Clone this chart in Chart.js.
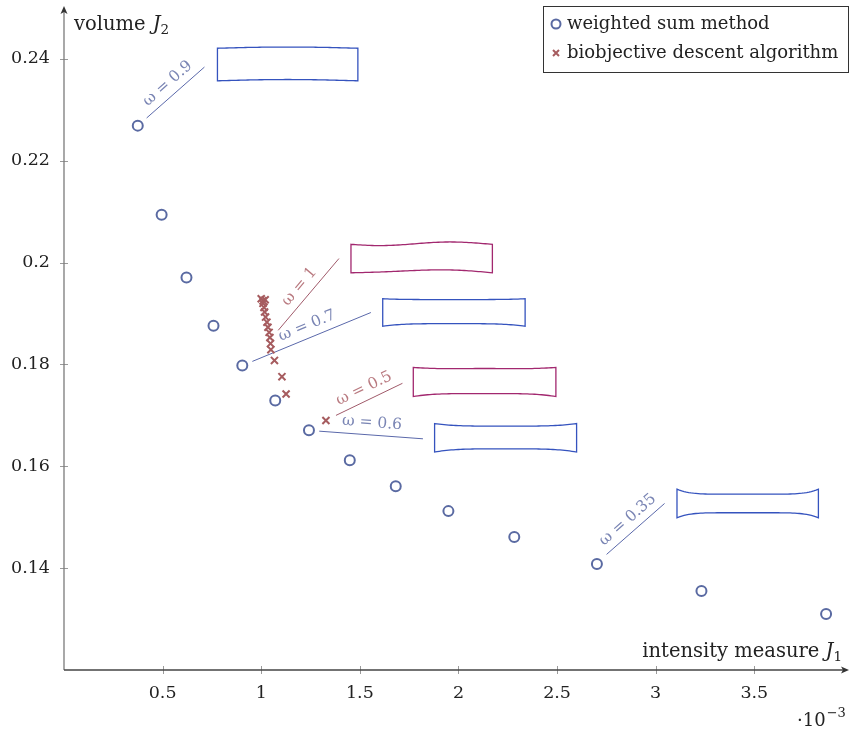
<!DOCTYPE html>
<html>
<head>
<meta charset="utf-8">
<script src="https://cdn.jsdelivr.net/npm/chart.js@4.4.1/dist/chart.umd.min.js"></script>
<style>
  html, body { margin: 0; padding: 0; background: #fff; }
</style>
</head>
<body>
<canvas id="chart" width="854" height="736"></canvas>
<script>
// weighted sum method (J1 in 1e-3)
const weightedJ1 = [0.374, 0.495, 0.621, 0.758, 0.904, 1.071, 1.242, 1.449, 1.682, 1.949, 2.283, 2.702, 3.232, 3.864];
const weightedJ2 = [0.2269, 0.2094, 0.1971, 0.1876, 0.1798, 0.1729, 0.1671, 0.1612, 0.1561, 0.1512, 0.1461, 0.1408, 0.1355, 0.1310];

// biobjective descent algorithm
const descentJ1 = [1.000, 1.020, 1.009, 1.009, 1.014, 1.017, 1.022, 1.029, 1.034, 1.040, 1.044, 1.047, 1.049, 1.067, 1.105, 1.126, 1.328];
const descentJ2 = [0.1929, 0.1927, 0.1925, 0.1920, 0.1912, 0.1903, 0.1893, 0.1883, 0.1873, 0.1863, 0.1853, 0.1841, 0.1829, 0.1808, 0.1776, 0.1742, 0.1690];

const xTicks = [0.5, 1, 1.5, 2, 2.5, 3, 3.5];
const yTicks = [0.14, 0.16, 0.18, 0.2, 0.22, 0.24];

const serif = '"DejaVu Serif", serif';
const blue = '#5a6aa2';
const red = '#a65c5f';

// omega annotations: leader line + sketch of the beam shape (data coords)
const notes = [
  { w: '0.9', c: 'b', line: [[0.419, 0.2284], [0.712, 0.2384]], box: [0.778, 1.490, 0.2421, 0.2357], top: t => -1.2 * Math.sin(Math.PI * t), bot: t => -1.3 * Math.sin(Math.PI * t) },
  { w: '1', c: 'r', line: [[1.086, 0.1867], [1.394, 0.2008]], box: [1.455, 2.172, 0.2037, 0.1980], top: t => 1.8 * Math.sin(2 * Math.PI * t + 0.3), bot: t => -2.6 * Math.sin(Math.PI * t) + 0.8 * Math.sin(2 * Math.PI * t) },
  { w: '0.7', c: 'b', line: [[0.955, 0.1806], [1.556, 0.1902]], box: [1.616, 2.338, 0.1929, 0.1875], top: t => 0.8 * (1 - Math.pow(2 * t - 1, 4)), bot: t => -2.6 * (1 - Math.pow(2 * t - 1, 4)) },
  { w: '0.5', c: 'r', line: [[1.379, 0.1700], [1.716, 0.1763]], box: [1.771, 2.494, 0.1794, 0.1737], top: t => 2.4 * Math.sin(Math.PI * t) * (0.7 + 0.3 * Math.cos(2 * Math.PI * t)), bot: t => -3 * (1 - Math.pow(2 * t - 1, 4)) },
  { w: '0.6', c: 'b', line: [[1.294, 0.1669], [1.820, 0.1654]], box: [1.879, 2.599, 0.1684, 0.1628], top: t => 2.6 * (1 - Math.pow(2 * t - 1, 4)), bot: t => -3.2 * (1 - Math.pow(2 * t - 1, 4)) },
  { w: '0.35', c: 'b', line: [[2.751, 0.1427], [3.045, 0.1527]], box: [3.108, 3.825, 0.1555, 0.1499], top: t => 5 * (1 - Math.pow(2 * t - 1, 6)), bot: t => -5 * (1 - Math.pow(2 * t - 1, 6)) }
];

const decor = {
  id: 'decor',
  beforeDatasetsDraw(chart) {
    const ctx = chart.ctx, xs = chart.scales.x, ys = chart.scales.y;
    ctx.save();
    notes.forEach(n => {
      const lineCol = n.c === 'b' ? '#5a68aa' : '#a05a6a';
      const txtCol = n.c === 'b' ? '#7a85b4' : '#b97a80';
      const boxCol = n.c === 'b' ? '#3553be' : '#a2286f';
      const x1 = xs.getPixelForValue(n.line[0][0]), y1 = ys.getPixelForValue(n.line[0][1]);
      const x2 = xs.getPixelForValue(n.line[1][0]), y2 = ys.getPixelForValue(n.line[1][1]);
      ctx.strokeStyle = lineCol;
      ctx.lineWidth = 1;
      ctx.beginPath(); ctx.moveTo(x1, y1); ctx.lineTo(x2, y2); ctx.stroke();
      // label along the line
      const ang = Math.atan2(y2 - y1, x2 - x1);
      const len = Math.hypot(x2 - x1, y2 - y1);
      const nx = (y2 - y1) / len, ny = -(x2 - x1) / len;
      ctx.save();
      ctx.translate((x1 + x2) / 2 + nx * 12, (y1 + y2) / 2 + ny * 12);
      ctx.rotate(ang);
      ctx.fillStyle = txtCol;
      ctx.textAlign = 'center';
      ctx.textBaseline = 'middle';
      ctx.font = '15.5px ' + serif;
      ctx.fillText('\u03c9 = ' + n.w, 0, 0);
      ctx.restore();
      // beam sketch
      const bx1 = xs.getPixelForValue(n.box[0]), bx2 = xs.getPixelForValue(n.box[1]);
      const by1 = ys.getPixelForValue(n.box[2]), by2 = ys.getPixelForValue(n.box[3]);
      ctx.strokeStyle = boxCol;
      ctx.lineWidth = 1.3;
      ctx.beginPath();
      const N = 60;
      for (let i = 0; i <= N; i++) {
        const t = i / N, x = bx1 + (bx2 - bx1) * t, y = by1 + n.top(t);
        i === 0 ? ctx.moveTo(x, y) : ctx.lineTo(x, y);
      }
      for (let i = N; i >= 0; i--) {
        const t = i / N;
        ctx.lineTo(bx1 + (bx2 - bx1) * t, by2 + n.bot(t));
      }
      ctx.closePath();
      ctx.stroke();
    });
    ctx.restore();
  },
  afterDraw(chart) {
    const ctx = chart.ctx, xs = chart.scales.x, ys = chart.scales.y;
    const a = chart.chartArea;
    ctx.save();
    // tick marks crossing the axes
    ctx.strokeStyle = '#9a9a9a';
    ctx.lineWidth = 1;
    xTicks.forEach(v => {
      const x = Math.round(xs.getPixelForValue(v)) + 0.5;
      ctx.beginPath(); ctx.moveTo(x, a.bottom - 4); ctx.lineTo(x, a.bottom + 4); ctx.stroke();
    });
    yTicks.forEach(v => {
      const y = Math.round(ys.getPixelForValue(v)) + 0.5;
      ctx.beginPath(); ctx.moveTo(a.left - 4, y); ctx.lineTo(a.left + 4, y); ctx.stroke();
    });
    // axes with arrows
    ctx.lineWidth = 1.3;
    ctx.strokeStyle = '#7a7a7a';
    ctx.beginPath(); ctx.moveTo(a.left, a.top + 2); ctx.lineTo(a.left, a.bottom); ctx.stroke();
    ctx.strokeStyle = '#444';
    ctx.beginPath(); ctx.moveTo(a.left, a.bottom); ctx.lineTo(a.right - 2, a.bottom); ctx.stroke();
    ctx.fillStyle = '#333';
    ctx.beginPath();
    ctx.moveTo(a.left, a.top - 2); ctx.lineTo(a.left - 3.5, a.top + 6); ctx.lineTo(a.left, a.top + 4); ctx.lineTo(a.left + 3.5, a.top + 6);
    ctx.closePath(); ctx.fill();
    ctx.beginPath();
    ctx.moveTo(a.right + 2, a.bottom); ctx.lineTo(a.right - 6, a.bottom - 3.5); ctx.lineTo(a.right - 4, a.bottom); ctx.lineTo(a.right - 6, a.bottom + 3.5);
    ctx.closePath(); ctx.fill();

    // axis titles
    const fs = 19.5, fsub = 13.5;
    ctx.fillStyle = '#222';
    ctx.textBaseline = 'alphabetic';
    ctx.textAlign = 'left';
    ctx.font = fs + 'px ' + serif;
    let x = 74;
    ctx.fillText('volume ', x, 30); x += ctx.measureText('volume ').width + 1;
    ctx.font = 'italic ' + fs + 'px ' + serif;
    ctx.fillText('J', x, 30); x += ctx.measureText('J').width;
    ctx.font = fsub + 'px ' + serif;
    ctx.fillText('2', x, 34);

    const t1 = 'intensity measure ';
    ctx.font = fsub + 'px ' + serif; const wSub = ctx.measureText('1').width;
    ctx.font = 'italic ' + fs + 'px ' + serif; const wJ = ctx.measureText('J').width;
    ctx.font = fs + 'px ' + serif; const wT = ctx.measureText(t1).width;
    x = 842 - wSub - wJ - wT;
    ctx.fillText(t1, x, 657); x += wT;
    ctx.font = 'italic ' + fs + 'px ' + serif; ctx.fillText('J', x, 657); x += wJ;
    ctx.font = fsub + 'px ' + serif; ctx.fillText('1', x, 661);

    // exponent
    ctx.font = '18px ' + serif;
    ctx.fillText('\u00b710', 797, 726);
    const wE = ctx.measureText('\u00b710').width;
    ctx.font = '13px ' + serif;
    ctx.fillText('\u22123', 797 + wE + 1, 717);

    // legend box
    ctx.fillStyle = '#fff';
    ctx.fillRect(543.5, 6.5, 305, 66);
    ctx.strokeStyle = '#333';
    ctx.lineWidth = 1;
    ctx.strokeRect(543.5, 6.5, 305, 66);
    ctx.strokeStyle = blue; ctx.lineWidth = 2;
    ctx.beginPath(); ctx.arc(556, 24, 4.5, 0, 2 * Math.PI); ctx.stroke();
    ctx.strokeStyle = red;
    ctx.beginPath();
    ctx.moveTo(553, 50); ctx.lineTo(559, 56); ctx.moveTo(559, 50); ctx.lineTo(553, 56);
    ctx.stroke();
    ctx.fillStyle = '#222';
    ctx.font = '18px ' + serif;
    ctx.textBaseline = 'middle';
    ctx.fillText('weighted sum method', 567, 24);
    ctx.fillText('biobjective descent algorithm', 567, 53);
    ctx.restore();
  }
};

const noPad = s => { s.paddingTop = 0; s.paddingBottom = 0; s.paddingLeft = 0; s.paddingRight = 0; };

const ctx = document.getElementById('chart').getContext('2d');
window.myChart = new Chart(ctx, {
  type: 'scatter',
  data: {
    datasets: [
      {
        label: 'weighted sum method',
        data: weightedJ1.map((v, i) => ({ x: v, y: weightedJ2[i] })),
        pointStyle: 'circle',
        pointRadius: 5,
        pointBorderWidth: 2,
        borderColor: blue,
        backgroundColor: '#fff'
      },
      {
        label: 'biobjective descent algorithm',
        data: descentJ1.map((v, i) => ({ x: v, y: descentJ2[i] })),
        pointStyle: 'crossRot',
        pointRadius: 5,
        pointBorderWidth: 2,
        borderColor: red,
        backgroundColor: red
      }
    ]
  },
  options: {
    responsive: false,
    animation: false,
    layout: { padding: { top: 8, right: 6, left: 0, bottom: 0 } },
    plugins: { legend: { display: false }, tooltip: { enabled: false } },
    scales: {
      x: {
        type: 'linear',
        min: 0,
        max: 3.97,
        afterBuildTicks: s => { s.ticks = xTicks.map(v => ({ value: v })); },
        afterFit: s => { s.height = 66; noPad(s); },
        grid: { display: false, drawTicks: false },
        border: { display: false },
        ticks: { font: { family: serif, size: 17.5 }, color: '#222', padding: 13, callback: v => String(v) }
      },
      y: {
        type: 'linear',
        min: 0.12,
        max: 0.25,
        afterBuildTicks: s => { s.ticks = yTicks.map(v => ({ value: v })); },
        afterFit: s => { s.width = 64; noPad(s); },
        grid: { display: false, drawTicks: false },
        border: { display: false },
        ticks: { font: { family: serif, size: 17.5 }, color: '#222', padding: 14, callback: v => String(v) }
      }
    }
  },
  plugins: [decor]
});
</script>
</body>
</html>
